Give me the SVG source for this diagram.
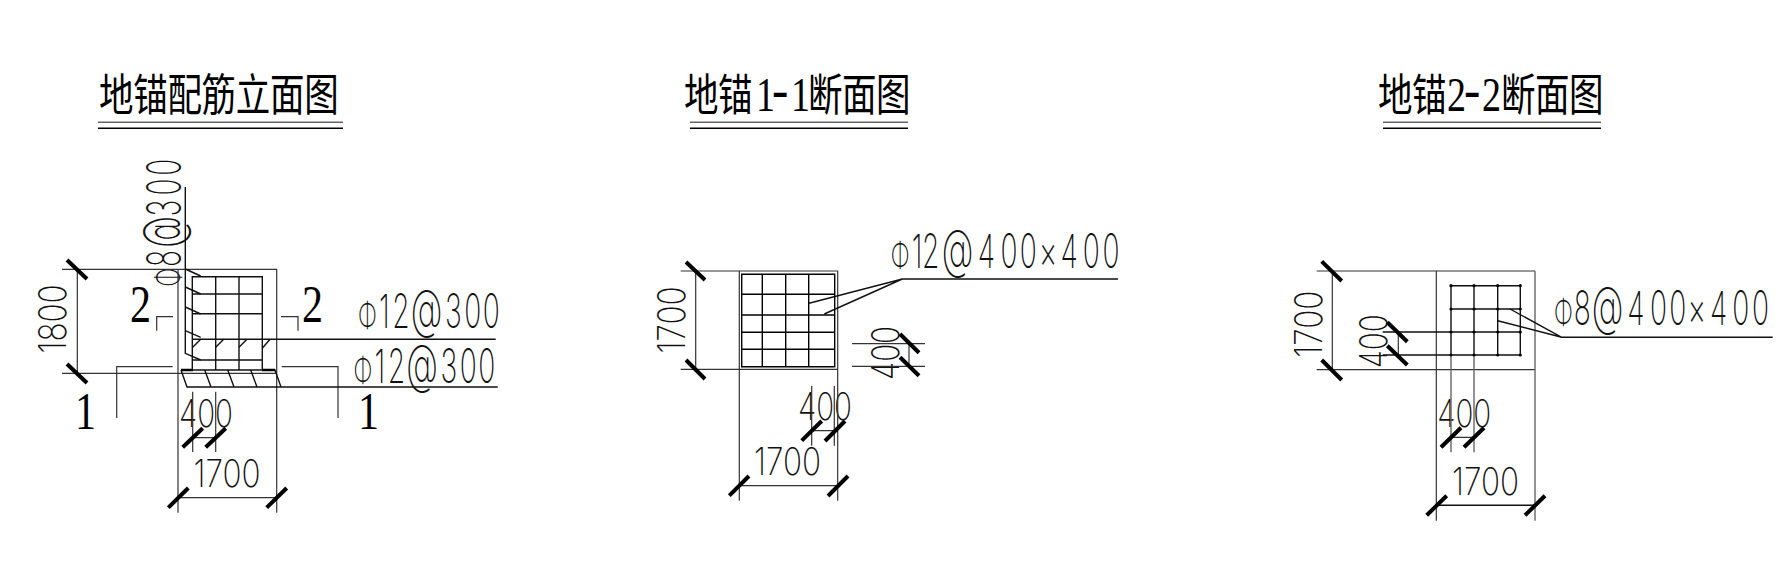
<svg xmlns="http://www.w3.org/2000/svg" width="1787" height="573" viewBox="0 0 1787 573">
<style>
.t{font-family:"Noto Sans CJK SC","Liberation Serif",serif;font-size:34.5px;fill:#000}
.n{font-family:"Liberation Serif",serif;font-size:38px}
.h{font-family:Inter,sans-serif;font-weight:400;font-size:40px}
.s{font-family:"Liberation Serif",serif;font-size:42px;fill:#000}
.d{font-family:Inter,Roboto,sans-serif;font-weight:150;font-size:38px;fill:#111}
.l{font-family:Inter,Roboto,sans-serif;font-weight:150;font-size:47px;fill:#111}
.p{font-size:36px}
.a{font-size:54px}
line,polyline,path{fill:none;stroke:#333;stroke-width:1.2}
.g{stroke:#666;stroke-width:1.4}
.k{stroke:#111;stroke-width:1.4}
.x{stroke:#000;stroke-width:4}
.u{stroke:#000;stroke-width:1.4}
.f{fill:#000;stroke:none}
</style>
<g id="titles">
<text class="t" transform="scale(1,1.3)" y="85.5" x="99 133.2 167.4 201.6 235.8 270 304.2">地锚配筋立面图</text>
<text class="t" transform="scale(1,1.3)" y="85.5" x="684 718">地锚<tspan class="n" x="756">1</tspan><tspan class="h" x="771">-</tspan><tspan class="n" x="791">1</tspan><tspan x="808 842 876">断面图</tspan></text>
<text class="t" transform="scale(1,1.3)" y="85.5" x="1378 1412">地锚<tspan class="n" x="1447">2</tspan><tspan class="h" x="1463">-</tspan><tspan class="n" x="1482">2</tspan><tspan x="1501 1535 1569">断面图</tspan></text>
<path class="g" d="M98 122.3H343M690 122.3H908M1383 122.3H1601"/>
<path class="u" d="M98 128.3H343M690 128.3H908M1383 128.3H1601"/>
</g>
<g id="elevation">
<text class="d" transform="translate(66,353.5) rotate(-90) scale(.83,1)">1800</text>
<text class="l" transform="translate(181,286.7) rotate(-90) scale(.6,1)" x="0 33 65 117 152 185"><tspan class="p">Φ</tspan>8<tspan class="a">@</tspan>300</text>
<text class="s" transform="translate(130,321.7) scale(1,1.28)">2</text>
<text class="s" transform="translate(302,321.7) scale(1,1.28)">2</text>
<text class="s" transform="translate(75,429) scale(1,1.28)">1</text>
<text class="s" transform="translate(358,429) scale(1,1.28)">1</text>
<text class="l" transform="translate(358,328.3) scale(.6,1)" x="0 35 57 88 145 177 208"><tspan class="p">Φ</tspan>12<tspan class="a">@</tspan>300</text>
<text class="l" transform="translate(353.5,382.8) scale(.6,1)" x="0 35 57 88 145 177 208"><tspan class="p">Φ</tspan>12<tspan class="a">@</tspan>300</text>
<text class="d" transform="translate(179,426.7) scale(.78,1)">400</text>
<text class="d" transform="translate(193.5,486.7) scale(.83,1)">1700</text>
<path d="M62 269.3H276.7V370M62 373.3H276.7M77.3 269.3V373.3M178 269.3V512.7M276.7 370V512.7M178 497.7H276.7M192.7 391.7V452M215.7 391.7V452M192.7 437.7H215.7"/>
<path d="M156.7 330.7V316.7H173M281 316.7H298V330.7M116.7 418V366.7H172.7M281.7 366.7H338V418"/>
<path class="k" d="M192.3 370V276.7H262.3V370M215.7 276.7V370M239 276.7V370M192.3 294H262.3M192.3 313.7H262.3M192.3 360H262.3"/>
<path class="k" d="M192.3 339.3H495.7M185.3 187V353.3L200.7 360M185.3 269L200.7 276M185.3 287L200.7 294M185.3 307L200.7 314M185.3 330.7L200.7 337.3"/>
<path class="k" d="M192.7 347.3L200.7 339.3M215.7 347.3L223.7 339.3M239 347.3L247 339.3M262.3 348.3L270 339.3"/>
<path class="k" d="M181 370H275L281 387M181 370L187 387H497.7M204.7 370L211 387M227.7 370L234 387M250.7 370L257 387"/>
<path class="u" style="stroke-width:2.4" d="M181 370H193M262 370H275"/>
<path class="x" d="M67 260L87 279M67 364L87 383M182.7 447.3L202.7 428.3M205.7 447.3L225.7 428.3M168.3 507.7L188.3 488M266.7 507.7L286.7 488"/>
</g>
<g id="section-1-1">
<text class="d" transform="translate(685,353.5) rotate(-90) scale(.83,1)">1700</text>
<text class="d" transform="translate(899,380) rotate(-90) scale(.78,1)">400</text>
<text class="d" transform="translate(798,420) scale(.78,1)">400</text>
<text class="d" transform="translate(754,475) scale(.83,1)">1700</text>
<text class="l" transform="translate(890.7,267.7) scale(.6,1)" x="0 35 52 85 145 183 215 247 283 320 353"><tspan class="p">Φ</tspan>12<tspan class="a">@</tspan>400×400</text>
<path d="M680.7 271H837.7V500.7M680.7 369.3H837.7M739.3 271V500.7M695.7 271V369.3M739.3 485.7H837.7M811.7 386V445.7M834.3 386V445.7M811.7 430.7H834.3M852 343.7H925M852 366.3H925M909 343.7V366.3"/>
<path class="u" d="M741.7 274.3H834.7V366.7H741.7ZM762.3 274.3V366.7M785.7 274.3V366.7M808.7 274.3V366.7M741.7 294.3H834.7M741.7 315H834.7M741.7 332.3H834.7M741.7 349.3H834.7"/>
<path class="k" d="M1118 279H902.3L809 303.3M902.3 279L824.3 314"/>
<path class="x" d="M686 262L705 280M686 360L705 379M900 334L919 352.7M900 357.3L919 375.7M729.3 495.7L749 476M828 496L848 476M801.7 440.7L821.7 421M825 441L845 421"/>
</g>
<g id="section-2-2">
<text class="d" transform="translate(1321.7,357.8) rotate(-90) scale(.83,1)">1700</text>
<text class="d" transform="translate(1386.7,368.3) rotate(-90) scale(.78,1)">400</text>
<text class="d" transform="translate(1437.3,426.7) scale(.78,1)">400</text>
<text class="d" transform="translate(1452,495) scale(.83,1)">1700</text>
<text class="l" transform="translate(1554,325) scale(.6,1)" x="0 33 63 122 160 192 223 260 297 330"><tspan class="p">Φ</tspan>8<tspan class="a">@</tspan>400×400</text>
<path d="M1316.7 271H1535M1316.7 369.7H1535M1332.3 271V369.7M1436.3 271V520.7M1398.3 332V355M1451 437.3H1474"/>
<path class="g" d="M1535 271V520.7M1451 355V452.3M1474 355V452.3"/>
<path class="k" d="M1451 285.7H1520.3V355H1382.7M1382.7 332H1520.3M1451 309H1520.3M1451 285.7V355M1474 285.7V355M1497.7 285.7V355M1436.3 505.3H1535"/>
<g class="f"><circle cx="1451" cy="285.7" r="1.6"/><circle cx="1474" cy="285.7" r="1.6"/><circle cx="1497.7" cy="285.7" r="1.6"/><circle cx="1520.3" cy="285.7" r="1.6"/><circle cx="1451" cy="309" r="1.6"/><circle cx="1474" cy="309" r="1.6"/><circle cx="1497.7" cy="309" r="1.6"/><circle cx="1520.3" cy="309" r="1.6"/><circle cx="1451" cy="332" r="1.6"/><circle cx="1474" cy="332" r="1.6"/><circle cx="1497.7" cy="332" r="1.6"/><circle cx="1520.3" cy="332" r="1.6"/><circle cx="1451" cy="355" r="1.6"/><circle cx="1474" cy="355" r="1.6"/><circle cx="1497.7" cy="355" r="1.6"/><circle cx="1520.3" cy="355" r="1.6"/></g>
<path class="k" d="M1772.7 337.3H1561.7L1510 309M1561.7 337.3L1497.7 320.7"/>
<path class="x" d="M1321.7 261.3L1341.7 281M1321.7 360L1341.7 380M1387.3 322.3L1407.3 341.7M1387.3 345.7L1407.3 365M1426.7 515.3L1446.7 495.7M1525 515.3L1545 495.7M1441 447.3L1461 427.7M1464 447.3L1484 427.7"/>
</g>
</svg>
